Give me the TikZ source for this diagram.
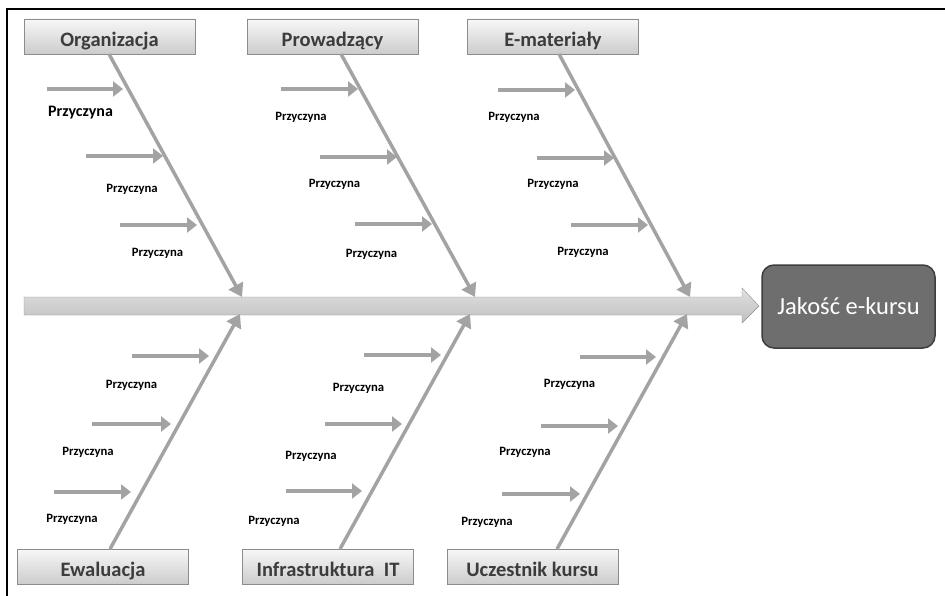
\documentclass[tikz,border=0pt]{standalone}
\usepackage{fontspec}
\setmainfont{Carlito}
\usepackage{xcolor}
\usepackage{tikz}
\usetikzlibrary{arrows.meta}

\definecolor{bonegray}{RGB}{163,163,163}
\definecolor{boxedge}{RGB}{140,140,140}
\definecolor{headtext}{RGB}{60,60,60}
\definecolor{qfill}{RGB}{110,110,110}
\definecolor{qedge}{RGB}{62,62,62}

\tikzset{
  catbox/.style={draw=boxedge, top color=gray!6, bottom color=gray!40, minimum width=171pt,
    minimum height=35pt, inner sep=0pt, text height=21pt, text depth=1pt, text=headtext,
    font=\fontsize{20.5}{24}\selectfont\bfseries},
  bone/.style={draw=bonegray, line width=3.5pt, -{Triangle[length=13pt,width=16pt]}},
  cause/.style={draw=bonegray, line width=4pt, -{Triangle[length=10pt,width=15pt]}},
  why/.style={inner sep=0pt, font=\fontsize{12.7}{14}\selectfont\bfseries},
}

\begin{document}
\begin{tikzpicture}[x=1pt,y=-1pt]
\useasboundingbox (0,0) rectangle (945,596);
\draw[line width=2pt] (7,596) -- (7,9) -- (945,9);
\begin{scope}
    % spine
    \draw[draw=boxedge, top color=gray!24, bottom color=gray!50] (24,297) -- (742,297) -- (742,288)
        -- (759,306) -- (742,323) -- (742,315) -- (24,315) -- cycle;
    \node[draw=qedge, line width=1.5pt, fill=qfill, rounded corners=12pt, minimum width=173pt,
        minimum height=83pt, text=white, font=\fontsize{24.5}{28}\selectfont] (Q) at (848.5,306.5) {Jakość e-kursu};
    % categories
    \node[catbox] (O) at (109.5,36.5) {Organizacja};
    \node[catbox] (P) at (332.5,36.5) {Prowadzący};
    \node[catbox] (M) at (553,36.5) {E-materiały};
    \node[catbox] (W) at (103,566.5) {Ewaluacja};
    \node[catbox] (I) at (328,566.5) {Infrastruktura\ \ IT};
    \node[catbox] (U) at (532.5,566.5) {Uczestnik kursu};
    % bones
    \coordinate (O') at (109,54);  \coordinate (Ot) at (242,297);
    \coordinate (P') at (341,54);  \coordinate (Pt) at (475,297);
    \coordinate (M') at (559,54);  \coordinate (Mt) at (690,297);
    \coordinate (W') at (110,549); \coordinate (Wt) at (240,314);
    \coordinate (I') at (340,549); \coordinate (It) at (470,314);
    \coordinate (U') at (557,549); \coordinate (Ut) at (687,314);
    \draw[bone] (O') -- (Ot);
    \draw[bone] (P') -- (Pt);
    \draw[bone] (M') -- (Mt);
    \draw[bone] (W') -- (Wt);
    \draw[bone] (I') -- (It);
    \draw[bone] (U') -- (Ut);
    % causes
    \coordinate (O1) at (47,89);   \draw[cause] (O1) -- ++(76,0);
    \coordinate (O2) at (86,156);  \draw[cause] (O2) -- ++(77,0);
    \coordinate (O3) at (120,225); \draw[cause] (O3) -- ++(77,0);
    \coordinate (P1) at (281,89);  \draw[cause] (P1) -- ++(77,0);
    \coordinate (P2) at (320,157); \draw[cause] (P2) -- ++(77,0);
    \coordinate (P3) at (355,224); \draw[cause] (P3) -- ++(77,0);
    \coordinate (M1) at (498,90);  \draw[cause] (M1) -- ++(77,0);
    \coordinate (M2) at (537,158); \draw[cause] (M2) -- ++(77,0);
    \coordinate (M3) at (571,225); \draw[cause] (M3) -- ++(77,0);
    \coordinate (W1) at (132,356); \draw[cause] (W1) -- ++(77,0);
    \coordinate (W2) at (92,424);  \draw[cause] (W2) -- ++(79,0);
    \coordinate (W3) at (54,492);  \draw[cause] (W3) -- ++(77,0);
    \coordinate (I1) at (364,355); \draw[cause] (I1) -- ++(77,0);
    \coordinate (I2) at (325,424); \draw[cause] (I2) -- ++(77,0);
    \coordinate (I3) at (286,491); \draw[cause] (I3) -- ++(76,0);
    \coordinate (U1) at (580,357); \draw[cause] (U1) -- ++(76,0);
    \coordinate (U2) at (541,426); \draw[cause] (U2) -- ++(77,0);
    \coordinate (U3) at (502,494); \draw[cause] (U3) -- ++(78,0);
    % labels
    \node[why, font=\fontsize{16}{18}\selectfont\bfseries] (o1) at (80.5,113) {Przyczyna};
    \node[why] (o2) at (132,189) {Przyczyna};
    \node[why] (o3) at (157.5,253) {Przyczyna};
    \node[why] (p1) at (301,117) {Przyczyna};
    \node[why] (p2) at (334.5,184) {Przyczyna};
    \node[why] (p3) at (371.5,254) {Przyczyna};
    \node[why] (m1) at (514,117) {Przyczyna};
    \node[why] (m2) at (553,184) {Przyczyna};
    \node[why] (m3) at (583,252) {Przyczyna};
    \node[why] (w1) at (131.5,385) {Przyczyna};
    \node[why] (w2) at (88,452) {Przyczyna};
    \node[why] (w3) at (72,519) {Przyczyna};
    \node[why] (i1) at (358.5,388) {Przyczyna};
    \node[why] (i2) at (311,456) {Przyczyna};
    \node[why] (i3) at (274,521) {Przyczyna};
    \node[why] (u1) at (569.5,384) {Przyczyna};
    \node[why] (u2) at (525,452) {Przyczyna};
    \node[why] (u3) at (487,522) {Przyczyna};
\end{scope}
\end{tikzpicture}
\end{document}
